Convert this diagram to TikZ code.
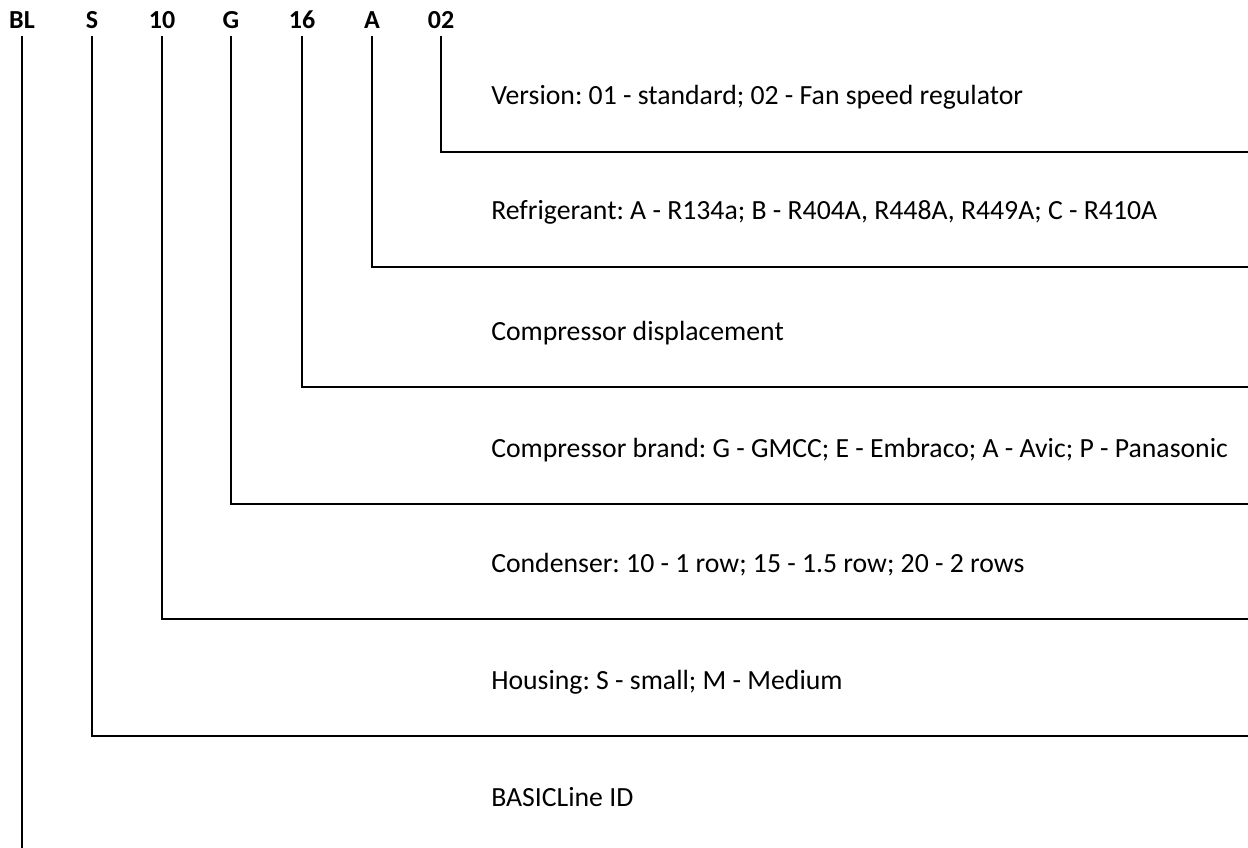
\documentclass[tikz,border=0pt]{standalone}
\usepackage{fontspec}
\setmainfont{Carlito}
\frenchspacing
\begin{document}
\begin{tikzpicture}[x=0.75pt,y=-0.75pt,
  code/.style={font=\fontsize{19.5pt}{22pt}\selectfont\bfseries, anchor=base, inner sep=0pt},
  desc/.style={font=\fontsize{20.8pt}{24pt}\selectfont\frenchspacing, anchor=base west, inner sep=0pt},
  conn/.style={line width=1.2pt, line cap=rect}]
\useasboundingbox (0,0) rectangle (1248,848);
% code letters
\node[code] (cBL) at (22,29) {BL};
\node[code] (cS)  at (92,29) {S};
\node[code] (c10) at (162,29) {10};
\node[code] (cG)  at (231,29) {G};
\node[code] (c16) at (302,29) {16};
\node[code] (cA)  at (372,29) {A};
\node[code] (c02) at (441,29) {02};
\coordinate (top) at (0,37);
% descriptions
\node[desc] (d02) at (491,105) {Version: 01 - standard; 02 - Fan speed regulator};
\node[desc] (dA)  at (491,220) {Refrigerant: A - R134a; B - R404A, R448A, R449A; C - R410A};
\node[desc] (d16) at (491,340) {Compressor displacement};
\node[desc] (dG)  at (491,457) {Compressor brand: G - GMCC; E - Embraco; A - Avic; P - Panasonic};
\node[desc] (d10) at (491,572) {Condenser: 10 - 1 row; 15 - 1.5 row; 20 - 2 rows};
\node[desc] (dS)  at (491,689) {Housing: S - small; M - Medium};
\node[desc] (dBL) at (491,806) {BASICLine ID};
% free ends
\coordinate (e02) at (1249,152);
\coordinate (eA)  at (1249,267);
\coordinate (e16) at (1249,387);
\coordinate (eG)  at (1249,504);
\coordinate (e10) at (1249,619);
\coordinate (eS)  at (1249,736);
\coordinate (eBL) at (22,849);
% connectors
\draw[conn] (c02 |- top) |- (e02);
\draw[conn] (cA |- top) |- (eA);
\draw[conn] (c16 |- top) |- (e16);
\draw[conn] (cG |- top) |- (eG);
\draw[conn] (c10 |- top) |- (e10);
\draw[conn] (cS |- top) |- (eS);
\draw[conn] (cBL |- top) -- (eBL);
\end{tikzpicture}
\end{document}
